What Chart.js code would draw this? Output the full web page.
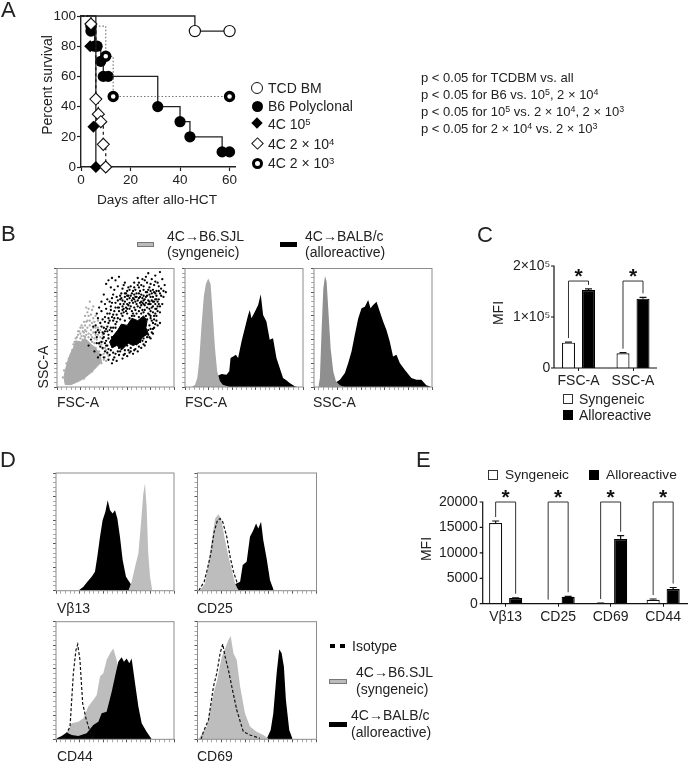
<!DOCTYPE html>
<html>
<head>
<meta charset="utf-8">
<script src="https://cdn.jsdelivr.net/npm/chart.js@4"></script>
<style>
  html, body { margin: 0; padding: 0; background: #fff; }
  #page { position: relative; width: 688px; height: 762px; overflow: hidden; font-family: "Liberation Sans", Arial, sans-serif; color: #222; filter: blur(0.35px); }
  canvas { position: absolute; left: 0; top: 0; }
  .t { position: absolute; white-space: nowrap; transform: translateY(-50%); line-height: 1; z-index: 5; }
  .rot { transform: translate(-50%, -50%) rotate(-90deg); }
  .mid { transform: translate(-50%, -50%); }
  sup { font-size: 0.68em; line-height: 0; vertical-align: baseline; position: relative; top: -0.45em; }
  .sw { position: absolute; box-sizing: border-box; z-index: 5; }
</style>
</head>
<body>
<div id="page"></div>
<script>
// panel A - survival, [day, percent]
const survivalTicksX = [0, 20, 40, 60];
const tcdBm = [[0, 100], [46, 90], [60, 90]];
const b6Poly = [[0, 100], [4, 90], [5.5, 80], [6.5, 80], [8, 70], [9, 60], [11, 60], [31, 40], [40, 30], [44, 20], [57, 10], [60, 10]];
const c4e5Line = [[0, 100], [6, 0]];
const c4e5Marks = [[3.7, 80], [5, 26.7], [6, 0]];
const c4e4 = [[0, 100], [4, 94.7], [6, 45], [7, 35], [8, 30], [9, 15], [10, 0]];
const c4e3 = [[0, 100], [4, 93.3], [10, 73.3], [13, 46.7], [60, 46.7]];

// panel B - FSC/SSC dot plot, percent of each axis
const grayCore = [[7, 2], [6, 8], [7, 14], [9, 21], [11, 27], [14, 33], [16, 39], [20, 38], [24, 41], [29, 36], [33, 33], [37, 27], [38, 21], [34, 17], [29, 12], [24, 8], [19, 5], [12, 2], [7, 2]];
const blackCore = [[48, 43], [52, 48], [55, 53], [60, 52], [64, 58], [69, 56], [74, 60], [77, 56], [76, 50], [78, 45], [73, 42], [70, 37], [65, 35], [61, 37], [56, 32], [51, 35], [47, 33], [45, 38], [48, 43]];
const graySpecks = [[15, 38], [17, 42], [20, 45], [22, 50], [25, 55], [27, 60], [30, 65], [28, 72], [24, 48], [28, 52], [32, 55], [35, 50],
  [31, 46], [27, 42], [22, 40], [34, 40], [38, 36], [36, 30], [40, 28], [33, 33], [26, 38], [19, 38], [21, 35], [30, 38], [25, 44], [18, 36],
  [23, 46], [29, 48], [33, 44], [37, 42], [26, 50], [20, 41], [16, 36], [24, 42], [28, 36], [32, 37], [36, 36], [39, 32], [41, 25], [38, 27],
  [12, 28], [10, 24], [8, 20], [6, 14], [5, 8], [42, 22], [38, 20], [30, 13], [23, 7], [31, 58], [26, 63], [34, 47], [21, 52], [29, 44],
  [16, 41], [18, 44], [21, 43], [23, 43], [25, 47], [27, 45], [30, 42], [32, 41], [35, 44], [37, 38], [39, 38], [41, 33], [43, 28], [40, 23],
  [19, 47], [22, 47], [24, 52], [26, 56], [28, 56], [30, 54], [31, 50], [33, 50], [29, 61], [27, 66], [24, 60], [23, 55], [20, 50], [18, 47],
  [14, 36], [13, 31], [35, 56], [37, 48], [39, 44], [42, 31], [44, 26], [33, 60], [31, 68], [25, 67]];
const blackSpecks = [[44, 90], [47, 92], [42, 87], [50, 90], [53, 93], [58, 88], [46, 84], [52, 85], [56, 83], [40, 78], [38, 72], [43, 74],
  [48, 78], [51, 76], [55, 79], [60, 81], [63, 85], [66, 88], [69, 92], [72, 86], [75, 90], [78, 96], [76, 93], [81, 91], [84, 94], [88, 97],
  [90, 91], [92, 86], [86, 88], [83, 86], [79, 84], [74, 82], [70, 79], [66, 78], [62, 75], [58, 72], [54, 70], [50, 71], [46, 68], [42, 66],
  [38, 64], [35, 58], [37, 54], [41, 59], [45, 62], [49, 64], [53, 64], [57, 66], [61, 69], [65, 71], [69, 73], [73, 75], [77, 77], [81, 79],
  [85, 81], [89, 83], [93, 80], [91, 76], [87, 74], [83, 72], [79, 70], [75, 69], [71, 67], [67, 65], [90, 70], [86, 68], [88, 63], [84, 62],
  [80, 64], [85, 56], [88, 54], [83, 50], [81, 46], [78, 44], [76, 38], [72, 33], [69, 30], [65, 28], [60, 26], [56, 24], [51, 22], [47, 20],
  [44, 23], [40, 25], [37, 27], [41, 30], [45, 27], [50, 28], [54, 30], [58, 31], [63, 33], [68, 36], [73, 39], [78, 48], [82, 54], [80, 58],
  [76, 60], [72, 62], [68, 62], [64, 60], [60, 62], [56, 60], [52, 58], [48, 56], [44, 54], [40, 50], [36, 46], [34, 42], [38, 38], [42, 35],
  [46, 38], [40, 42], [63, 68], [66, 74], [71, 71], [74, 73], [78, 73], [82, 76], [85, 77], [80, 81], [76, 80], [72, 78], [68, 76], [64, 73],
  [60, 70], [56, 68], [52, 67], [48, 61], [44, 58], [41, 55], [38, 51], [35, 48], [62, 66], [69, 68], [73, 65], [77, 67], [81, 67], [84, 66],
  [87, 70], [83, 60], [79, 61], [75, 65], [70, 64], [66, 67], [59, 64], [55, 62], [51, 61], [47, 59], [43, 51], [39, 46], [82, 82], [78, 82],
  [74, 85], [70, 84], [67, 82], [64, 79], [61, 77], [58, 76], [54, 74], [50, 67], [46, 65], [84, 70], [86, 64], [89, 77], [87, 85], [84, 89],
  [80, 87], [77, 88], [73, 91], [70, 88], [66, 84], [62, 82], [59, 79], [55, 75], [81, 73], [76, 71], [72, 69], [68, 70], [64, 64], [79, 66],
  [82, 63], [81, 56], [79, 52], [77, 57], [82, 49], [79, 42], [75, 45], [71, 38], [67, 32], [62, 29], [58, 28], [53, 27], [49, 25], [46, 31],
  [43, 29], [39, 33], [36, 37], [33, 46], [31, 51], [29, 40], [32, 30], [27, 35], [35, 25], [48, 23], [53, 33], [60, 35], [70, 40], [74, 36],
  [65, 62], [57, 63], [50, 53], [46, 50], [41, 47], [44, 44], [42, 39], [85, 74], [91, 81], [88, 79], [34, 62], [36, 67], [45, 72], [49, 82],
  [73, 71], [75, 74], [70, 75], [67, 72], [62, 71], [59, 67], [63, 77], [71, 81], [69, 86], [77, 80], [80, 76], [84, 74], [79, 72], [65, 75],
  [60, 74], [57, 70], [53, 67], [49, 58], [45, 56], [42, 49], [40, 45], [39, 41], [41, 37], [44, 32], [48, 29], [52, 30], [57, 27], [61, 31],
  [66, 31], [70, 34], [74, 41], [77, 42], [80, 49], [84, 53], [83, 57], [85, 60], [86, 52], [82, 45], [80, 41], [75, 35], [63, 30], [55, 32],
  [50, 38], [47, 42], [56, 65], [60, 66], [51, 55], [45, 48], [43, 47], [48, 50], [84, 79], [86, 72], [88, 68], [82, 68], [78, 70], [74, 77],
  [71, 76], [68, 79], [65, 81], [58, 79], [54, 77], [61, 84], [57, 86], [72, 72], [76, 76], [79, 78], [83, 80], [87, 81], [37, 34], [34, 37],
  [33, 52], [39, 57], [43, 62], [47, 71], [52, 73], [47, 75], [41, 70], [56, 73], [60, 77], [67, 76], [74, 70], [80, 70], [82, 72], [85, 66],
  [54, 57], [58, 56], [62, 58], [66, 60], [70, 59], [74, 63], [78, 62], [80, 60], [50, 50], [47, 47], [44, 41], [43, 35]];

// panel B - histograms, [channel percent, height percent]
const fscGray = [[5.6, 0], [8.5, 2], [10.4, 7.5], [12, 21.5], [14, 52], [16, 77], [17.7, 87], [19.7, 91.5], [21.7, 87], [23.4, 63], [25.4, 33], [27.3, 13], [29.6, 5], [32, 2], [38, 0]];
const fscBlack = [[24, 0], [26.8, 9], [31, 11], [35.2, 10.4], [37.5, 13.2], [38.6, 24.4], [40.8, 25.8], [43.1, 27.2], [45, 24.4], [47.9, 38.4], [50.7, 49.6], [53.5, 60.8], [54.9, 65], [56.3, 58], [59.2, 63.6], [62, 69.2], [64.2, 78.2], [66.2, 60.8], [69, 55.2], [71.8, 39.8], [74.6, 41.2], [77.5, 24.4], [80.3, 16], [83.1, 7.6], [85.9, 5.6], [88.7, 3.4], [93, 0.6], [95, 0]];
const sscGray = [[3.7, 0], [5, 7.6], [6.5, 49.6], [7.9, 83.2], [9.3, 93.6], [10.7, 88.8], [12.4, 60.8], [14.1, 32.8], [16.3, 13.2], [18.6, 4.8], [22, 1.4], [26, 0]];
const sscBlack = [[16, 0], [17.7, 3.4], [22, 6.2], [26.2, 11.8], [29, 20.2], [31.8, 30], [34.6, 44], [37.5, 58], [40.3, 66.4], [43.1, 67.8], [45.9, 73.4], [47.9, 66.4], [50.1, 69.2], [53, 72], [55.8, 63.6], [58.6, 55.2], [61.4, 48.2], [64.2, 38.4], [67, 25.8], [69.9, 27.2], [72.7, 20.2], [76.9, 14.6], [82.5, 7.6], [86.8, 6.2], [91, 6.2], [95.2, 1.4], [98, 0.6], [99, 0]];

// panel C
const cCategories = ['FSC-A', 'SSC-A'];
const cSyngeneic = [49700, 29000];
const cAlloreactive = [153000, 136000];
const cSynErr = [1200, 1000];
const cAlloErr = [2000, 2500];
const cBracketTop = [170500, 170500];
const cTickValues = [0, 100000, 200000];
const cTickLabels = ['0', '1×10⁵', '2×10⁵'];

// panel D - histograms
const vbBlack = [[18.9, 0], [23.2, 3.4], [26.6, 7.6], [30.2, 11.9], [33, 16.1], [35, 28.8], [37.3, 45.8], [39.5, 59.9], [41.8, 66.9], [43.8, 76.8], [45.8, 68.4], [48, 65.5], [50, 68.4], [52, 61.3], [54.2, 45.8], [56.5, 26], [59.3, 11.9], [63.3, 5.6], [67, 1.4], [69, 0]];
const vbGray = [[61.3, 0], [64.1, 7.6], [67, 20.3], [69.8, 31.6], [72, 57], [74, 82.5], [75.4, 91], [76.8, 71.2], [78.2, 31.6], [79.7, 11.9], [81.6, 0]];
const cd25Gray = [[1.7, 0], [6.4, 6.2], [9.2, 23.2], [12, 42.9], [14.8, 61.3], [17.6, 65], [19.8, 61.3], [23.2, 42.9], [26, 28.8], [28.8, 17.5], [31.6, 6.2], [33.5, 2], [35, 0]];
const cd25Black = [[9.2, 0], [24.6, 2.8], [30.2, 4.8], [35.8, 7.6], [38, 21.8], [41.3, 24.6], [44.1, 45.8], [46.9, 51.4], [49.2, 57], [51.1, 52.8], [53.4, 58.5], [55.3, 42.9], [58.1, 27.4], [60.9, 9], [64.2, 0]];
const cd25Iso = [[1, 0], [2.2, 2], [5.6, 7.6], [8.4, 18.9], [11.2, 31.6], [14, 50], [16.8, 59.9], [19, 61.3], [21.2, 58.5], [24.6, 45.8], [27.4, 28.8], [30.2, 16.1], [33.5, 6.2], [37.2, 0]];
const cd44Gray = [[4, 0], [6.2, 0.8], [10.5, 7.9], [13.3, 13.6], [18.9, 15], [23.2, 17.8], [27.4, 27.8], [31.6, 33.4], [34.5, 37.7], [37.3, 53.3], [40.1, 56.1], [42.9, 67.4], [45.8, 73.1], [48.6, 77.3], [51.4, 67.4], [54.2, 50.4], [58.5, 30.6], [65.5, 10.8], [71.2, 2.3], [74, 0]];
const cd44Black = [[0.6, 0.8], [4.8, 2.8], [9, 5.7], [13.3, 3.7], [18.9, 2.8], [26, 5.1], [31.6, 12.2], [35.9, 15], [38.7, 22.1], [42.9, 23.5], [47.2, 40.5], [50, 53.3], [52.8, 66], [55.6, 69.7], [57.6, 66], [59.9, 68.8], [62.1, 64.6], [64.1, 68.8], [67, 47.6], [69.8, 27.8], [72.6, 13.6], [76.8, 6.5], [81, 0.3]];
const cd44Iso = [[6, 0], [7.6, 2.3], [11.9, 10.8], [14.7, 56.1], [16.9, 75.9], [18.4, 80.7], [20.3, 67.4], [22.6, 30.6], [25.4, 17.8], [28.2, 8.5], [31.6, 0.8]];
const cd69Gray = [[1, 0], [2.2, 2.3], [7.8, 10.8], [13.4, 39.1], [16.2, 49], [20.4, 70.3], [23.2, 77.3], [26, 84.4], [27.9, 87.8], [30.2, 73.1], [33, 67.4], [35.8, 44.8], [39.9, 22.1], [44.1, 10.8], [49.7, 6.5], [55.3, 3.7], [59.5, 0.6]];
const cd69Black = [[58.1, 0.3], [61.5, 7.9], [63.7, 22.1], [66.5, 56.1], [68.7, 76.5], [70.7, 73.1], [72.6, 61.8], [74.3, 33.4], [77.1, 7.9], [79.9, 0.3]];
const cd69Iso = [[3, 0], [5, 6.5], [9.2, 16.4], [13.4, 44.8], [16.2, 56.1], [19, 73.1], [21.2, 81], [23.2, 70.3], [26, 58.9], [28.8, 44.8], [33, 24.9], [38.5, 6.5], [44.1, 3.7], [52.5, 0.8]];

// panel E
const eCategories = ['Vβ13', 'CD25', 'CD69', 'CD44'];
const eSyngeneic = [15870, 20, 100, 790];
const eAlloreactive = [1115, 1380, 12720, 2885];
const eSynErr = [390, 0, 30, 130];
const eAlloErr = [60, 70, 650, 300];
const eBracketTop = [20000, 20000, 20000, 20000];
const eTickValues = [0, 5000, 10000, 15000, 20000];

const INK = '#222';
const CANVAS_W = 700, CANVAS_H = 800;
const AXIS_W = 50, AXIS_H = 26;
Chart.defaults.font.family = '"Liberation Sans", Arial, sans-serif';
Chart.defaults.color = INK;
Chart.defaults.animation = false;

const page = document.getElementById('page');

function label(html, x, y, size, cls) {
  const d = document.createElement('div');
  d.className = 't' + (cls ? ' ' + cls : '');
  d.style.left = x + 'px';
  d.style.top = y + 'px';
  d.style.fontSize = size + 'px';
  d.innerHTML = html;
  page.appendChild(d);
}

function swatch(x, y, w, h, css) {
  const d = document.createElement('div');
  d.className = 'sw';
  d.style.cssText = `left:${x}px;top:${y}px;width:${w}px;height:${h}px;${css}`;
  page.appendChild(d);
}

function addCanvas() {
  const c = document.createElement('canvas');
  c.width = CANVAS_W;
  c.height = CANVAS_H;
  page.appendChild(c);
  return c;
}

// every chart gets a page sized canvas, padding plus fixed axis boxes give the plot rectangle in page px
function plotPadding(r) {
  return { left: r[0] - AXIS_W, top: r[1], right: CANVAS_W - r[2], bottom: CANVAS_H - r[3] - AXIS_H };
}
const fixedBox = s => { if (s.isHorizontal()) s.height = AXIS_H; else s.width = AXIS_W; };
const xy = pts => pts.map(p => ({ x: p[0], y: p[1] }));

const framePlugin = {
  id: 'frame',
  afterDraw(chart) {
    const a = chart.chartArea, ctx = chart.ctx;
    ctx.save();
    ctx.strokeStyle = '#8c8c8c';
    ctx.lineWidth = 1;
    ctx.strokeRect(a.left, a.top, a.right - a.left, a.bottom - a.top);
    ctx.restore();
  }
};

function boxScale() {
  return {
    type: 'linear', min: 0, max: 100, afterFit: fixedBox,
    border: { display: false },
    ticks: { display: false, stepSize: 4, autoSkip: false },
    grid: {
      drawOnChartArea: false, tickLength: 3, tickWidth: 1,
      tickColor: c => (c.tick && c.tick.value % 20 === 0 ? '#555' : '#aaa')
    }
  };
}

function histChart(rect, curves) {
  new Chart(addCanvas(), {
    type: 'scatter',
    data: {
      datasets: curves.map(c => ({
        data: xy(c.pts), showLine: true, pointRadius: 0,
        fill: c.dash ? false : 'origin',
        backgroundColor: c.color, borderColor: c.color,
        borderWidth: c.dash ? 1.2 : 0, borderDash: c.dash || []
      }))
    },
    options: {
      responsive: false,
      layout: { padding: plotPadding(rect) },
      plugins: { legend: { display: false }, tooltip: { enabled: false } },
      scales: { x: boxScale(), y: boxScale() }
    },
    plugins: [framePlugin]
  });
}

// ---- panel A
const noFirst = r => (c => (c.dataIndex === 0 ? 0 : r));

new Chart(addCanvas(), {
  type: 'scatter',
  data: {
    datasets: [
      { label: '4C 2 × 10⁴', data: xy(c4e4), order: 0, showLine: true, stepped: true, borderColor: '#111', borderWidth: 1.2, borderDash: [3, 3], clip: false,
        pointStyle: 'rectRot', pointRadius: noFirst(6), pointBackgroundColor: '#fff', pointBorderColor: '#111', pointBorderWidth: 1.1 },
      { label: '4C 2 × 10³', data: xy(c4e3), order: 1, showLine: true, stepped: true, borderColor: '#777', borderWidth: 1.2, borderDash: [1.5, 2], clip: false,
        pointStyle: 'circle', pointRadius: noFirst(4), pointBorderWidth: 3.4, pointBackgroundColor: '#fff', pointBorderColor: '#000' },
      { label: '4C 10⁵', data: xy(c4e5Marks), order: 2, clip: false, pointStyle: 'rectRot', pointRadius: 6, pointBackgroundColor: '#000', pointBorderColor: '#000', pointBorderWidth: 0 },
      { label: '4C 10⁵ line', data: xy(c4e5Line), order: 3, showLine: true, stepped: true, borderColor: '#222', borderWidth: 1.3, pointRadius: 0, clip: false },
      { label: 'B6 Polyclonal', data: xy(b6Poly), order: 4, showLine: true, stepped: true, borderColor: '#222', borderWidth: 1.3, clip: false,
        pointRadius: noFirst(5.6), pointBackgroundColor: '#000', pointBorderColor: '#000', pointBorderWidth: 0 },
      { label: 'TCD BM', data: xy(tcdBm), order: 5, showLine: true, stepped: true, borderColor: '#222', borderWidth: 1.3, clip: false,
        pointRadius: noFirst(5.6), pointBackgroundColor: '#fff', pointBorderColor: '#111', pointBorderWidth: 1.2 }
    ]
  },
  options: {
    responsive: false,
    layout: { padding: plotPadding([81, 16, 235, 167]) },
    plugins: { legend: { display: false }, tooltip: { enabled: false } },
    scales: {
      x: { type: 'linear', min: 0, max: 62.2, afterFit: fixedBox,
        border: { color: INK, width: 1.4 },
        grid: { drawOnChartArea: false, tickLength: 4, tickColor: INK, tickWidth: 1.2 },
        afterBuildTicks: s => { s.ticks = survivalTicksX.map(v => ({ value: v })); },
        ticks: { font: { size: 13.5 }, padding: 1, maxRotation: 0, autoSkip: false } },
      y: { type: 'linear', min: 0, max: 100, afterFit: fixedBox,
        border: { color: INK, width: 1.4 },
        grid: { drawOnChartArea: false, tickLength: 4, tickColor: INK, tickWidth: 1.2 },
        ticks: { stepSize: 20, font: { size: 13.5 }, padding: 1 } }
    }
  }
});

label('A', 1, 10, 22);
label('Percent survival', 47, 85, 14, 'rot');
label('Days after allo-HCT', 157, 200, 13.7, 'mid');

const legendX = 257;
swatch(legendX - 6, 82, 12, 12, 'border:1.2px solid #111;border-radius:50%;background:#fff');
swatch(legendX - 5.5, 100.5, 11, 11, 'border-radius:50%;background:#000');
swatch(legendX - 4, 119, 8, 8, 'background:#000;transform:rotate(45deg)');
swatch(legendX - 4.5, 138.5, 9, 9, 'border:1.1px solid #111;background:#fff;transform:rotate(45deg)');
swatch(legendX - 5.5, 157.5, 11, 11, 'border:3.4px solid #000;border-radius:50%;background:#fff');
label('TCD BM', 268, 88, 14);
label('B6 Polyclonal', 268, 106, 14);
label('4C 10<sup>5</sup>', 268, 124, 14);
label('4C 2 × 10<sup>4</sup>', 268, 144, 14);
label('4C 2 × 10<sup>3</sup>', 268, 163, 14);

label('p &lt; 0.05 for TCDBM vs. all', 421, 77, 13);
label('p &lt; 0.05 for B6 vs. 10<sup>5</sup>, 2 × 10<sup>4</sup>', 421, 94, 13);
label('p &lt; 0.05 for 10<sup>5</sup> vs. 2 × 10<sup>4</sup>, 2 × 10<sup>3</sup>', 421, 111, 13);
label('p &lt; 0.05 for 2 × 10<sup>4</sup> vs. 2 × 10<sup>3</sup>', 421, 128, 13);

// ---- panel B
new Chart(addCanvas(), {
  type: 'scatter',
  data: {
    datasets: [
      { data: xy(blackSpecks), pointRadius: 1.15, pointBackgroundColor: '#000', pointBorderWidth: 0 },
      { data: xy(blackCore), showLine: true, fill: 'shape', backgroundColor: '#000', borderColor: '#000', borderWidth: 1, pointRadius: 0 },
      { data: xy(graySpecks), pointRadius: 1.15, pointBackgroundColor: '#aaa', pointBorderWidth: 0 },
      { data: xy(grayCore), showLine: true, fill: 'shape', backgroundColor: '#aaa', borderColor: '#aaa', borderWidth: 1, pointRadius: 0 }
    ]
  },
  options: {
    responsive: false,
    layout: { padding: plotPadding([57, 268.5, 174, 387]) },
    plugins: { legend: { display: false }, tooltip: { enabled: false } },
    scales: { x: boxScale(), y: boxScale() }
  },
  plugins: [framePlugin]
});

histChart([185, 268.5, 303, 387], [
  { pts: fscGray, color: '#ababab' },
  { pts: fscBlack, color: '#000' }
]);
histChart([314, 268.5, 432, 387], [
  { pts: sscGray, color: '#8f8f8f' },
  { pts: sscBlack, color: '#000' }
]);

label('B', 1, 234, 22);
swatch(137, 241.5, 17, 5, 'background:#bbb;border:1px solid #777');
label('4C→B6.SJL', 167, 236, 14);
label('(syngeneic)', 167, 252, 14);
swatch(280, 241.5, 17, 5, 'background:#000');
label('4C→BALB/c', 305, 236, 14);
label('(alloreactive)', 305, 252, 14);
label('SSC-A', 43, 367, 14, 'rot');
label('FSC-A', 57, 402, 14);
label('FSC-A', 185, 402, 14);
label('SSC-A', 313, 402, 14);

// ---- bars for C and E
const barExtras = {
  id: 'barExtras',
  afterDatasetsDraw(chart, args, o) {
    const ctx = chart.ctx, y = chart.scales.y, b = chart.chartArea.bottom;
    ctx.save();
    ctx.strokeStyle = '#111';
    ctx.fillStyle = '#111';
    ctx.lineWidth = 1.2;
    // axis lines and y tick marks
    ctx.beginPath();
    ctx.moveTo(o.spineX, y.getPixelForValue(o.yMax) - 0.5);
    ctx.lineTo(o.spineX, b);
    ctx.lineTo(o.endX, b);
    y.ticks.forEach(t => {
      const p = y.getPixelForValue(t.value);
      ctx.moveTo(o.spineX - 3, p);
      ctx.lineTo(o.spineX, p);
    });
    ctx.stroke();
    // error bars, upper side only
    const errs = [o.synErr, o.alloErr];
    errs.forEach((list, ds) => {
      const meta = chart.getDatasetMeta(ds);
      list.forEach((e, i) => {
        if (!e) return;
        const v = chart.data.datasets[ds].data[i];
        const x = meta.data[i].x, y0 = y.getPixelForValue(v), y1 = y.getPixelForValue(v + e);
        ctx.beginPath();
        ctx.moveTo(x, y0);
        ctx.lineTo(x, y1);
        ctx.moveTo(x - 3.5, y1);
        ctx.lineTo(x + 3.5, y1);
        ctx.stroke();
      });
    });
    // significance brackets
    ctx.strokeStyle = '#333';
    ctx.lineWidth = 1;
    ctx.textAlign = 'center';
    ctx.textBaseline = 'middle';
    ctx.font = 'bold 21px "Liberation Sans"';
    o.top.forEach((top, i) => {
      const x0 = chart.getDatasetMeta(0).data[i].x, x1 = chart.getDatasetMeta(1).data[i].x;
      const yTop = y.getPixelForValue(top);
      const y0 = y.getPixelForValue(chart.data.datasets[0].data[i] + o.synErr[i]) - 4;
      const y1 = y.getPixelForValue(chart.data.datasets[1].data[i] + o.alloErr[i]) - 4;
      ctx.beginPath();
      ctx.moveTo(x0, y0);
      ctx.lineTo(x0, yTop);
      ctx.lineTo(x1, yTop);
      ctx.lineTo(x1, y1);
      ctx.stroke();
      ctx.fillText('*', (x0 + x1) / 2, yTop - 4);
    });
    ctx.restore();
  }
};

function barChart(rect, cats, syn, allo, tickVals, tickText, yMax, catPct, barPct, extras, tickFont, pad) {
  new Chart(addCanvas(), {
    type: 'bar',
    data: {
      labels: cats,
      datasets: [
        { label: 'Syngeneic', data: syn, backgroundColor: '#fff', borderColor: '#111', borderWidth: 1.2, categoryPercentage: catPct, barPercentage: barPct },
        { label: 'Alloreactive', data: allo, backgroundColor: '#000', borderColor: '#000', borderWidth: 1.2, categoryPercentage: catPct, barPercentage: barPct }
      ]
    },
    options: {
      responsive: false,
      layout: { padding: plotPadding(rect) },
      plugins: { legend: { display: false }, tooltip: { enabled: false }, barExtras: extras },
      scales: {
        x: { afterFit: fixedBox, border: { display: false },
          grid: { offset: false, drawOnChartArea: false, tickLength: 3, tickColor: '#111', tickWidth: 1 },
          ticks: { font: { size: 14 }, padding: 2, maxRotation: 0, autoSkip: false } },
        y: { type: 'linear', min: 0, max: yMax, afterFit: fixedBox, border: { display: false },
          grid: { display: false, drawTicks: false },
          afterBuildTicks: s => { s.ticks = tickVals.map(v => ({ value: v })); },
          ticks: { font: { size: tickFont }, padding: pad, autoSkip: false,
            callback: v => (tickText ? tickText[tickVals.indexOf(v)] : v) } }
      }
    },
    plugins: [barExtras]
  });
}

// ---- panel C
barChart([551.25, 266, 660.25, 368], cCategories, cSyngeneic, cAlloreactive, cTickValues, cTickLabels, 200000,
  0.734, 0.65, { spineX: 554, endX: 657, yMax: 200000, synErr: cSynErr, alloErr: cAlloErr, top: cBracketTop }, 14, 1);
label('C', 477, 235, 22);
label('MFI', 498, 313, 14, 'rot');
swatch(563, 394, 10, 10, 'background:#fff;border:1px solid #333');
label('Syngeneic', 579, 399, 14);
swatch(563, 410, 10, 10, 'background:#000');
label('Alloreactive', 579, 415, 14);

// ---- panel D
histChart([56, 473, 174, 590.7], [
  { pts: vbGray, color: '#bdbdbd' },
  { pts: vbBlack, color: '#000' }
]);
histChart([197.5, 473, 316.5, 590.7], [
  { pts: cd25Iso, color: '#111', dash: [3, 2] },
  { pts: cd25Gray, color: '#bdbdbd' },
  { pts: cd25Black, color: '#000' }
]);
histChart([56, 621.7, 174, 739.3], [
  { pts: cd44Iso, color: '#111', dash: [3, 2] },
  { pts: cd44Black, color: '#000' },
  { pts: cd44Gray, color: '#bdbdbd' }
]);
histChart([197.5, 621.7, 316.5, 739.3], [
  { pts: cd69Iso, color: '#111', dash: [3, 2] },
  { pts: cd69Gray, color: '#bdbdbd' },
  { pts: cd69Black, color: '#000' }
]);
label('D', 0, 460, 22);
label('Vβ13', 57, 608, 14);
label('CD25', 197, 608, 14);
label('CD44', 57, 756, 14);
label('CD69', 197, 756, 14);

swatch(329.5, 643.5, 5, 4.5, 'background:#000');
swatch(340, 643.5, 5, 4.5, 'background:#000');
label('Isotype', 352, 646, 14);
swatch(329, 678.5, 18, 5, 'background:#bbb;border:1px solid #777');
label('4C→B6.SJL', 356, 672, 14);
label('(syngeneic)', 356, 689, 14);
swatch(329, 721.5, 18, 5, 'background:#000');
label('4C→BALB/c', 351, 715, 14);
label('(alloreactive)', 351, 732, 14);

// ---- panel E
barChart([479.4, 502, 689.4, 603.7], eCategories, eSyngeneic, eAlloreactive, eTickValues, null, 20000,
  0.762, 0.655, { spineX: 482.7, endX: 688, yMax: 20000, synErr: eSynErr, alloErr: eAlloErr, top: eBracketTop }, 14, 1.5);
label('E', 416, 460, 22);
label('MFI', 426, 549, 14, 'rot');
swatch(488, 470, 10, 10, 'background:#fff;border:1px solid #333');
label('Syngeneic', 505, 475, 13.7);
swatch(589, 470, 10, 10, 'background:#000');
label('Alloreactive', 606, 475, 13.7);
</script>
</body>
</html>
